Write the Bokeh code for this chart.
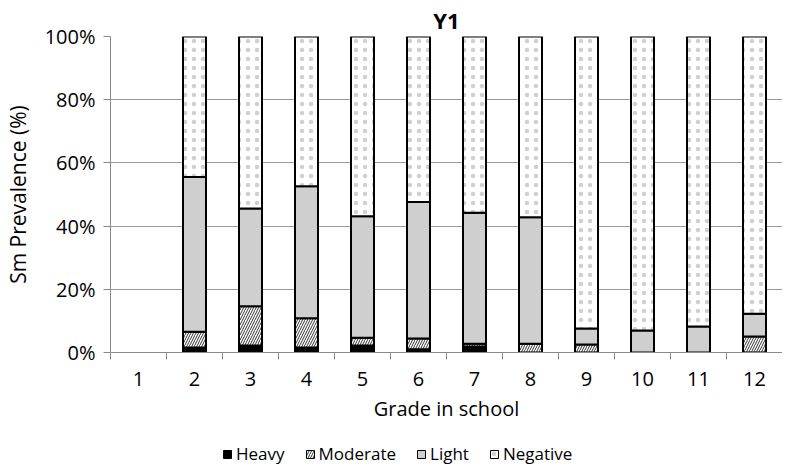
import numpy as np
from bokeh.plotting import figure
from bokeh.layouts import column
from bokeh.models import (ColumnDataSource, FixedTicker, PrintfTickFormatter,
                          Range1d, Legend, LegendItem)
from bokeh.embed import file_html
from bokeh.resources import INLINE

# ---- data (percent of pupils) ----
grades = [1, 2, 3, 4, 5, 6, 7, 8, 9, 10, 11, 12]
heavy = [0, 1.6, 2.2, 1.6, 2.2, 1.0, 1.9, 0.0, 0.0, 0.0, 0.0, 0.0]
moderate = [0, 5.0, 12.4, 9.2, 2.5, 3.4, 0.9, 2.8, 2.5, 0.0, 0.0, 5.1]
light = [0, 48.9, 31.0, 41.8, 38.4, 43.2, 41.4, 40.0, 5.1, 7.0, 8.2, 7.2]
negative = [0, 44.5, 54.4, 47.4, 56.9, 52.4, 55.8, 57.2, 92.4, 93.0, 91.8, 87.7]
series_names = ["Heavy", "Moderate", "Light", "Negative"]
y_ticks = [0, 20, 40, 60, 80, 100]

FONT = "Open Sans"

p = figure(frame_width=672, frame_height=316,
           x_range=Range1d(0.5, 12.5), y_range=Range1d(0, 100),
           output_backend="svg", toolbar_location=None,
           min_border_left=101, min_border_right=0, min_border_top=0,
           min_border_bottom=89)

p.title.text = "Y1"
p.title.align = "center"
p.title.text_font = FONT
p.title.text_font_size = "22px"
p.title.text_font_style = "bold"
p.title.text_color = "black"
p.title.standoff = 4
p.title.offset = 0

styles = [
    dict(fill_color="black"),
    dict(fill_color="white", hatch_pattern="right_diagonal_line",
         hatch_color="#333333", hatch_scale=5, hatch_weight=1),
    dict(fill_color="#cfcfcf"),
    dict(fill_color="white", hatch_pattern="dot",
         hatch_color="#d0d0d0", hatch_scale=9, hatch_weight=0.5),
]

values = [heavy, moderate, light, negative]
sources = []
bottom = np.zeros(len(grades))
for name, vals, st in zip(series_names, values, styles):
    v = np.array(vals, dtype=float)
    top = bottom + v
    mask = v > 0
    src = ColumnDataSource(dict(x=np.array(grades)[mask],
                                bottom=bottom[mask], top=top[mask]))
    sources.append(src)
    p.vbar(x="x", bottom="bottom", top="top", width=0.41, source=src,
           line_color="black", line_width=2, **st)
    bottom = top

# grid and axes
p.xgrid.grid_line_color = None
p.ygrid.grid_line_color = "#9a9a9a"
p.ygrid.grid_line_width = 1
p.ygrid.ticker = FixedTicker(ticks=y_ticks)
p.outline_line_color = None

xa = p.xaxis[0]
xa.ticker = FixedTicker(ticks=grades,
                        minor_ticks=[g - 0.5 for g in grades] + [grades[-1] + 0.5])
xa.major_tick_in = 0
xa.major_tick_out = 0
xa.minor_tick_in = 0
xa.minor_tick_out = 7
xa.minor_tick_line_color = "#8a8a8a"
xa.axis_line_color = "#8a8a8a"
xa.major_label_text_font = FONT
xa.major_label_text_font_size = "20px"
xa.major_label_text_color = "black"
xa.major_label_standoff = 12
xa.axis_label = "Grade in school"
xa.axis_label_text_font = FONT
xa.axis_label_text_font_size = "20px"
xa.axis_label_text_font_style = "normal"
xa.axis_label_text_color = "black"
xa.axis_label_standoff = 6

ya = p.yaxis[0]
ya.ticker = FixedTicker(ticks=y_ticks, minor_ticks=[])
ya.formatter = PrintfTickFormatter(format="%d%%")
ya.major_tick_in = 0
ya.major_tick_out = 7
ya.major_tick_line_color = "#8a8a8a"
ya.axis_line_color = "#8a8a8a"
ya.major_label_text_font = FONT
ya.major_label_text_font_size = "20px"
ya.major_label_text_color = "black"
ya.major_label_standoff = 8
ya.axis_label = "Sm Prevalence (%)"
ya.axis_label_text_font = FONT
ya.axis_label_text_font_size = "21px"
ya.axis_label_text_font_style = "normal"
ya.axis_label_text_color = "black"
ya.axis_label_standoff = 10

# ---- legend strip (separate small figure below the chart) ----
# same series drawn entirely out of view so that the legend has glyphs to show
lg = figure(width=773, height=24, x_range=Range1d(100, 101), y_range=Range1d(200, 201),
            x_axis_type=None, y_axis_type=None,
            output_backend="svg", toolbar_location=None,
            min_border=0, outline_line_color=None)
lg.grid.visible = False
items = []
for name, st, src in zip(series_names, styles, sources):
    r = lg.vbar(x="x", bottom="bottom", top="top", width=0.4, source=src,
                line_color="black", line_width=1, **st)
    items.append(LegendItem(label=name, renderers=[r]))

legend = Legend(items=items, orientation="horizontal", location=(112, 0),
                label_text_font=FONT, label_text_font_size="17px",
                label_text_color="black", glyph_width=10, glyph_height=10,
                label_standoff=4, spacing=20, padding=0, margin=0,
                border_line_color=None, background_fill_alpha=0)
lg.add_layout(legend)

open("out.html", "w").write(file_html(column(p, lg, spacing=0), INLINE))
